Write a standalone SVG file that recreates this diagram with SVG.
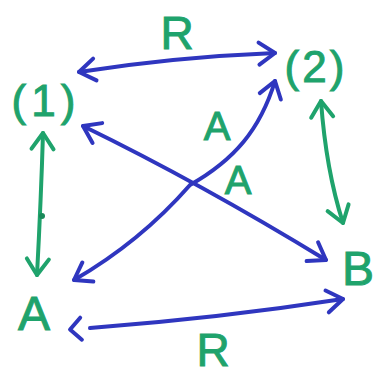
<svg xmlns="http://www.w3.org/2000/svg" width="374" height="378" viewBox="0 0 374 378">
<style>
.lbl{font-family:"Liberation Sans",Arial,sans-serif;fill:#1fa36c;stroke:#1fa36c;stroke-width:1;text-anchor:middle}
.b{fill:none;stroke:#2f36bf;stroke-width:4;stroke-linecap:round;stroke-linejoin:round}
.g{fill:none;stroke:#1fa36c;stroke-width:4;stroke-linecap:round;stroke-linejoin:round}
</style>
<defs>
<marker id="hb" markerUnits="userSpaceOnUse" markerWidth="40" markerHeight="40" viewBox="-30 -20 40 40" refX="0" refY="0" orient="auto-start-reverse">
<path d="M-16,-11 L0,0 L-16,11" fill="none" stroke="#2f36bf" stroke-width="4" stroke-linecap="round" stroke-linejoin="round"/>
</marker>
<marker id="hbgap" markerUnits="userSpaceOnUse" markerWidth="60" markerHeight="40" viewBox="-30 -20 60 40" refX="0" refY="0" orient="auto-start-reverse">
<path d="M9,-11 L20,0 L9,11" fill="none" stroke="#2f36bf" stroke-width="4" stroke-linecap="round" stroke-linejoin="round"/>
</marker>
<marker id="hg" markerUnits="userSpaceOnUse" markerWidth="40" markerHeight="40" viewBox="-30 -20 40 40" refX="0" refY="0" orient="auto-start-reverse">
<path d="M-16,-11 L0,0 L-16,11" fill="none" stroke="#1fa36c" stroke-width="4" stroke-linecap="round" stroke-linejoin="round"/>
</marker>
</defs>
<rect width="374" height="378" fill="#ffffff"/>
<g id="connectors">
<path class="b" d="M79,72 Q175,57 275,53" marker-start="url(#hb)" marker-end="url(#hb)"/>
<path class="b" d="M90,328 Q220,318 343,299" marker-start="url(#hbgap)" marker-end="url(#hb)"/>
<path class="b" d="M83,126 Q200,183 326,260" marker-start="url(#hb)" marker-end="url(#hb)"/>
<path class="b" d="M275,81 C260,130 234,160 190,185 Q140,242 74,280" marker-start="url(#hb)" marker-end="url(#hb)"/>
<path class="g" d="M43,133 Q41,200 37,275" marker-start="url(#hg)" marker-end="url(#hg)"/>
<circle cx="42" cy="216" r="3" fill="#1a8a5a"/>
<path class="g" d="M321,101 Q326,170 343,223" marker-start="url(#hg)" marker-end="url(#hg)"/>
<text class="lbl" x="177" y="49" font-size="46">R</text>
<text class="lbl" x="213" y="366" font-size="46">R</text>
<text class="lbl" x="217" y="140" font-size="40">A</text>
<text class="lbl" x="238" y="194" font-size="40">A</text>
</g>
<g id="n1"><text class="lbl" x="46" y="116" font-size="44" letter-spacing="5">(1)</text></g>
<g id="n2"><text class="lbl" x="316" y="82" font-size="44" letter-spacing="3">(2)</text></g>
<g id="nA"><text class="lbl" x="34" y="330" font-size="48">A</text></g>
<g id="nB"><text class="lbl" x="358" y="285" font-size="48">B</text></g>
</svg>
